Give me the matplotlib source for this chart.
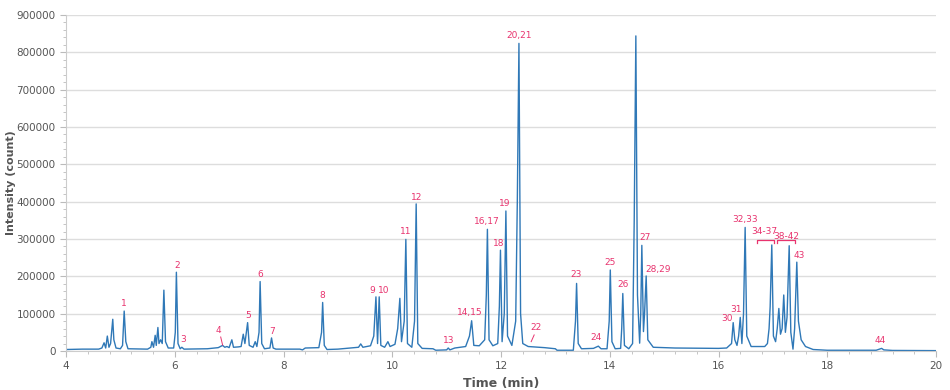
import numpy as np
import matplotlib
matplotlib.use("Agg")
from matplotlib import pyplot as plt
from matplotlib.ticker import MultipleLocator

# chromatogram trace (time in min, intensity in counts)
time = [4.00, 4.30, 4.60, 4.66, 4.70, 4.73, 4.76, 4.79, 4.82, 4.86, 4.88, 4.92, 5.00, 5.04, 5.07, 5.10, 5.14,
        5.50, 5.56, 5.58, 5.61, 5.64, 5.66, 5.69, 5.71, 5.74, 5.77, 5.80, 5.83, 5.88, 5.98, 6.01, 6.03, 6.06,
        6.10, 6.13, 6.17, 6.60, 6.80, 6.88, 6.92, 6.96, 7.00, 7.05, 7.08, 7.17, 7.22, 7.26, 7.29, 7.34, 7.37,
        7.44, 7.48, 7.51, 7.55, 7.57, 7.60, 7.65, 7.75, 7.78, 7.81, 7.86, 8.30, 8.35, 8.40, 8.65, 8.70, 8.72,
        8.75, 8.80, 9.00, 9.30, 9.38, 9.42, 9.46, 9.60, 9.66, 9.70, 9.73, 9.76, 9.79, 9.86, 9.92, 9.96, 10.05,
        10.10, 10.14, 10.17, 10.22, 10.25, 10.28, 10.36, 10.41, 10.44, 10.47, 10.55, 10.75, 10.80, 11.00,
        11.03, 11.06, 11.15, 11.35, 11.42, 11.44, 11.46, 11.50, 11.60, 11.70, 11.73, 11.75, 11.78, 11.85,
        11.94, 11.97, 11.99, 12.02, 12.06, 12.09, 12.12, 12.20, 12.27, 12.30, 12.33, 12.36, 12.40, 12.50,
        12.80, 13.00, 13.03, 13.33, 13.37, 13.39, 13.42, 13.48, 13.70, 13.79, 13.84, 13.95, 13.99, 14.01,
        14.04, 14.10, 14.20, 14.22, 14.24, 14.27, 14.35, 14.42, 14.45, 14.48, 14.51, 14.55, 14.57, 14.59,
        14.62, 14.64, 14.67, 14.70, 14.80, 15.20, 16.00, 16.15, 16.24, 16.27, 16.30, 16.34, 16.37, 16.40,
        16.43, 16.46, 16.49, 16.52, 16.60, 16.85, 16.90, 16.93, 16.95, 16.98, 17.01, 17.05, 17.08, 17.11,
        17.14, 17.17, 17.20, 17.23, 17.26, 17.30, 17.33, 17.37, 17.40, 17.44, 17.47, 17.52, 17.60, 17.74,
        18.00, 18.90, 18.96, 19.00, 19.04, 19.20, 20.00]
intensity = [4000, 5000, 5000, 8000, 22000, 8000, 40000, 10000, 20000, 85000, 30000, 8000, 6000, 15000, 107000,
             25000, 6000, 5000, 10000, 25000, 10000, 42000, 15000, 63000, 20000, 30000, 20000, 163000, 25000,
             8000, 8000, 50000, 211000, 20000, 6000, 10000, 5000, 6000, 9000, 15000, 10000, 12000, 9000, 30000,
             10000, 11000, 12000, 45000, 20000, 76000, 15000, 10000, 25000, 12000, 50000, 186000, 20000, 6000,
             8000, 35000, 8000, 5000, 5000, 3000, 8000, 9000, 50000, 130000, 15000, 4000, 5000, 9000, 10000,
             19000, 10000, 14000, 40000, 145000, 20000, 145000, 15000, 10000, 25000, 12000, 18000, 60000,
             141000, 25000, 80000, 299000, 20000, 10000, 80000, 394000, 20000, 7000, 6000, 2000, 3000, 8000,
             3000, 8000, 12000, 40000, 60000, 81000, 15000, 14000, 30000, 150000, 326000, 30000, 14000, 20000,
             120000, 270000, 25000, 100000, 375000, 40000, 15000, 80000, 400000, 824000, 100000, 20000, 12000,
             9000, 6000, 2000, 2000, 80000, 181000, 20000, 6000, 7000, 13000, 6000, 6000, 80000, 217000, 25000,
             6000, 7000, 60000, 154000, 15000, 6000, 20000, 350000, 844000, 150000, 21000, 100000, 283000,
             52000, 100000, 201000, 30000, 10000, 8000, 7000, 8000, 20000, 76000, 30000, 15000, 40000, 90000,
             20000, 100000, 331000, 40000, 12000, 12000, 20000, 60000, 119000, 284000, 40000, 25000, 60000,
             114000, 45000, 60000, 150000, 50000, 90000, 282000, 50000, 5000, 60000, 238000, 80000, 30000,
             12000, 4000, 2000, 2000, 5000, 7000, 3000, 1500, 1000]

# peak labels (text, time, intensity of the label centre)
peak_names = ["1", "2", "3", "4", "5", "6", "7", "8", "9", "10", "11", "12", "13", "14,15", "16,17", "18",
              "19", "20,21", "22", "23", "24", "25", "26", "27", "28,29", "30", "31", "32,33", "34-37",
              "38-42", "43", "44"]
peak_t = [5.07, 6.04, 6.15, 6.80, 7.35, 7.57, 7.79, 8.72, 9.63, 9.84, 10.25, 10.44, 11.03, 11.43, 11.74,
          11.96, 12.07, 12.33, 12.64, 13.38, 13.75, 14.00, 14.24, 14.65, 14.89, 16.15, 16.33, 16.49, 16.85,
          17.24, 17.48, 18.97]
peak_y = [126000, 230000, 32000, 54000, 96000, 204000, 51000, 150000, 161000, 161000, 319000, 412000, 29000,
          102000, 348000, 287000, 394000, 846000, 62000, 204000, 35000, 236000, 177000, 303000, 217000,
          86000, 112000, 351000, 319000, 306000, 255000, 29000]

# leader lines for labels 4 and 22
leader_t = [[6.845, 6.88], [12.61, 12.555]]
leader_y = [[37500, 16000], [43000, 25000]]

# brackets for grouped peaks 34-37 and 38-42
bracket_t = [[16.71, 17.02], [17.08, 17.41]]
bracket_top = 297000
bracket_foot = 288000

#=======================================================================================

line_col = '#2f78b7'
lab_col = '#e8336e'
grey = '#555555'

fig = plt.figure(figsize=(9.5, 3.9), dpi=100)
ax = fig.add_axes([66/950, 39/390, 870/950, 336/390])

ax.plot(time, intensity, color=line_col, linewidth=1.0)

for name, t, y in zip(peak_names, peak_t, peak_y):
    ax.text(t, y, name, color=lab_col, fontsize=6.5, ha='center', va='center')
for lt, ly in zip(leader_t, leader_y):
    ax.plot(lt, ly, color=lab_col, linewidth=0.7)
for bt in bracket_t:
    ax.plot([bt[0], bt[0], bt[1], bt[1]],
            [bracket_foot, bracket_top, bracket_top, bracket_foot],
            color=lab_col, linewidth=0.9)

ax.set_xlim(4, 20)
ax.set_ylim(0, 900000)
ax.xaxis.set_major_locator(MultipleLocator(2))
ax.xaxis.set_minor_locator(MultipleLocator(0.4))
ax.yaxis.set_major_locator(MultipleLocator(100000))
ax.yaxis.set_minor_locator(MultipleLocator(20000))
ax.grid(axis='y', which='major', color='#dddddd', linewidth=1.0)
ax.set_axisbelow(True)

for s in ['top', 'right']:
    ax.spines[s].set_visible(False)
for s in ['left', 'bottom']:
    ax.spines[s].set_color('#cccccc')
ax.tick_params(which='both', colors='#bbbbbb', labelcolor=grey, labelsize=7.5)
ax.tick_params(which='major', length=4)
ax.tick_params(which='minor', length=2)

ax.set_xlabel('Time (min)', color=grey, fontsize=9, fontweight='bold')
ax.set_ylabel('Intensity (count)', color=grey, fontsize=8, fontweight='bold')
ax.yaxis.set_label_coords(-0.057, 0.5)

plt.savefig('out.png')
